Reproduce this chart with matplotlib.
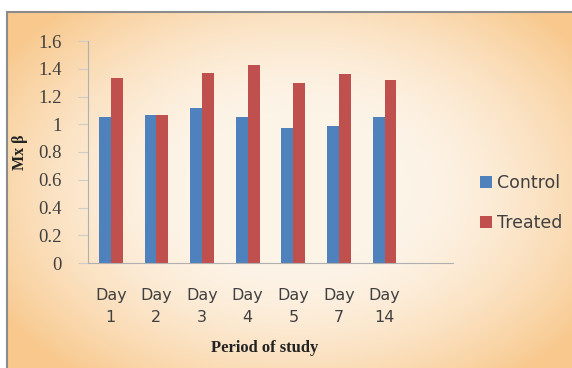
import numpy as np
import matplotlib
matplotlib.use("Agg")
import matplotlib.pyplot as plt

days = ["Day\n1", "Day\n2", "Day\n3", "Day\n4", "Day\n5", "Day\n7", "Day\n14"]
control = [1.05, 1.07, 1.12, 1.05, 0.97, 0.99, 1.05]
treated = [1.33, 1.07, 1.37, 1.43, 1.30, 1.36, 1.32]
yticks = [0, 0.2, 0.4, 0.6, 0.8, 1, 1.2, 1.4, 1.6]
ytick_labels = ["0", "0.2", "0.4", "0.6", "0.8", "1", "1.2", "1.4", "1.6"]

W, H = 572, 368
fig = plt.figure(figsize=(W / 100, H / 100), dpi=100)
fig.patch.set_facecolor("white")

# background panel with a soft peach gradient
bg = fig.add_axes([7 / W, 0, 1 - 7 / W, 1 - 12 / H])
yy, xx = np.mgrid[0:356, 0:565]
cx, cy = 290, 175
d = np.sqrt(((xx - cx) / 320.0) ** 2 + ((yy - cy) / 220.0) ** 2)
t = np.clip((d - 0.35) / 0.75, 0, 1) ** 1.5
light = np.array([253, 244, 232]) / 255.0
dark = np.array([248, 200, 140]) / 255.0
img = light[None, None, :] * (1 - t[..., None]) + dark[None, None, :] * t[..., None]
bg.imshow(img, aspect="auto", extent=[0, 1, 0, 1], origin="upper")
bg.set_xlim(0, 1)
bg.set_ylim(0, 1)
bg.set_xticks([])
bg.set_yticks([])
for side, sp in bg.spines.items():
    sp.set_color("#8c8c8c")
    sp.set_linewidth(1.5)
    if side in ("right", "bottom"):
        sp.set_visible(False)

ax = fig.add_axes([88 / W, 1 - 263 / H, (453 - 88) / W, (263 - 41) / H])
ax.patch.set_alpha(0)
n = len(days)
x = np.arange(n)
bw = 0.26
ax.bar(x - bw / 2, control, bw, color="#4F81BD", label="Control")
ax.bar(x + bw / 2, treated, bw, color="#C0504D", label="Treated")
ax.set_xlim(-0.5, n + 0.5)
ax.set_ylim(0, 1.6)
ax.set_yticks(yticks)
ax.set_yticklabels(ytick_labels, family="Liberation Serif", fontsize=13.5, color="#404040")
ax.set_xticks(x)
ax.set_xticklabels(days, family="DejaVu Sans", fontsize=11.5, color="#404040", linespacing=1.55)
ax.tick_params(axis="x", length=0, pad=18)
ax.tick_params(axis="y", length=7, color="#cccccc", pad=12)
for side in ("top", "right"):
    ax.spines[side].set_visible(False)
ax.spines["left"].set_color("#b0b0b0")
ax.spines["bottom"].set_color("#b0b0b0")

fig.text(20 / W, 1 - 152 / H, "Mx β", rotation=90, ha="center", va="center",
         family="Liberation Serif", fontweight="bold", fontsize=11.5, color="#222222")
fig.text(265 / W, 1 - 348 / H, "Period of study", ha="center", va="center",
         family="Liberation Serif", fontweight="bold", fontsize=12, color="#222222")

leg = ax.legend(loc="upper left", bbox_to_anchor=(471 / W, 1 - 165 / H),
                bbox_transform=fig.transFigure, frameon=False,
                prop={"family": "DejaVu Sans", "size": 12.5},
                handlelength=0.7, handleheight=0.7, handletextpad=0.3,
                labelspacing=1.3, borderpad=0)
for txt in leg.get_texts():
    txt.set_color("#404040")

fig.savefig("out.png", dpi=100)
